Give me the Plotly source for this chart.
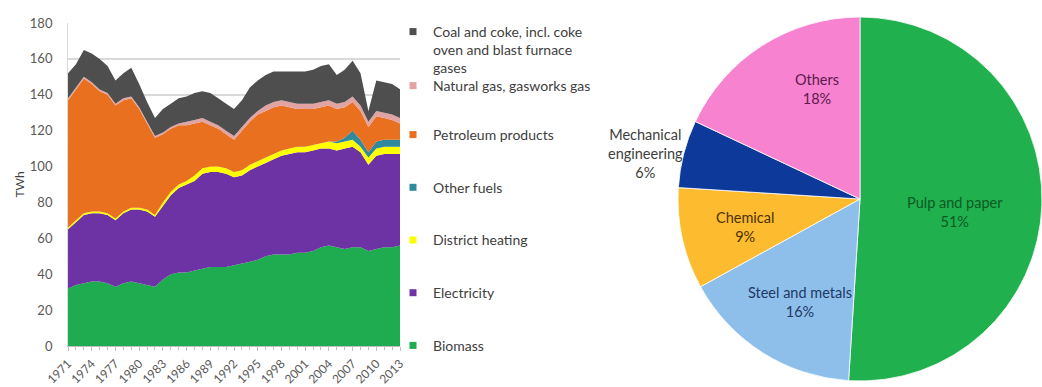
import plotly.graph_objects as go

years = list(range(1971, 2014))

biomass = [32,34,35,36,36,35,33,35,36,35, 34,33,37,40,41,41,42,43,44,44,
           44,45,46,47,48,50,51,51,51,52, 52,53,55,56,55,54,55,55,53,54, 55,55,56]
electricity = [33,35,38,38,38,38,37,39,40,41, 41,39,41,44,47,49,50,53,53,53,
               52,49,49,51,52,52,53,55,56,56, 56,56,55,54,54,56,56,53,48,52, 52,52,51]
district_heating = [1,1,1,1,1,1,1,1,1,1, 1,1,2,2,2,2,3,3,3,3,
                    3,3,3,3,3,3,3,3,3,3, 3,3,3,4,4,4,4,3,4,4, 4,4,4]
other_fuels = [0,0,0,0,0,0,0,0,0,0, 0,0,0,0,0,0,0,0,0,0,
               0,0,0,0,0,0,0,0,0,0, 0,0,0,0,1,2,5,4,3,4, 4,4,4]
petroleum = [71,73,75,71,67,66,63,62,61,55, 48,43,38,35,33,31,29,26,23,21,
             19,18,22,24,26,26,26,25,23,21, 21,20,20,20,18,17,16,16,14,14, 12,11,9]
natural_gas = [1,1,1,1,1,1,1,1,1,1, 1,1,1,1,1,2,2,2,2,2,
               2,2,2,2,2,3,3,3,3,3, 3,3,3,3,3,3,3,3,3,3, 3,3,3]
coal = [14,13,15,16,17,15,13,14,16,13, 11,10,13,13,14,14,15,15,16,15,
        15,15,15,17,17,17,17,16,17,18, 18,19,20,20,16,18,20,18,6,17, 17,17,16]

series_names = ["Biomass", "Electricity", "District heating", "Other fuels",
                "Petroleum products", "Natural gas, gasworks gas",
                "Coal and coke, incl. coke<br>oven and blast furnace<br>gases"]
series_values = [biomass, electricity, district_heating, other_fuels,
                 petroleum, natural_gas, coal]
series_colors = ["#1fab4f", "#6d32a3", "#ffff00", "#2f8aa0",
                 "#e8701e", "#e2a3a3", "#4e4e4e"]
legend_ids = ["legend2", "legend2", "legend2", "legend2", "legend2", "legend3", "legend"]

pie_labels = ["Pulp and paper", "Steel and metals", "Chemical",
              "Mechanical<br>engineering", "Others"]
pie_values = [51, 16, 9, 6, 18]
pie_colors = ["#20b04e", "#8dbfea", "#fdbb2f", "#0d3a9a", "#f682d0"]

fig = go.Figure()

for name, vals, col in zip(series_names, series_values, series_colors):
    fig.add_trace(go.Scatter(
        x=years, y=vals, stackgroup="one", mode="none",
        fillcolor=col, name=name, showlegend=False, hoverinfo="x+y+name"))

# legend entries (square markers like the original)
for i in range(len(series_names) - 1, -1, -1):
    fig.add_trace(go.Scatter(
        x=[None], y=[None], mode="markers",
        marker=dict(symbol="square", size=7, color=series_colors[i]),
        name=series_names[i], legendgroup=str(i), legend=legend_ids[i]))

fig.add_trace(go.Pie(
    labels=pie_labels, values=pie_values, sort=False, direction="clockwise",
    rotation=0, marker=dict(colors=pie_colors, line=dict(color="white", width=0.8)),
    textinfo="none", domain=dict(x=[678 / 1042, 1.0], y=[0.0155, 0.956]),
    showlegend=False, hoverinfo="label+percent"))

# pie labels
label_pos = [(955, 212), (800, 302), (745, 227), (645, 153), (817, 89)]
label_cols = ["#0b5a22", "#1f3864", "#4a3200", "#404040", "#5b1a4a"]
for lab, v, (px, py), c in zip(pie_labels, pie_values, label_pos, label_cols):
    fig.add_annotation(
        x=px / 1042, y=1 - py / 387, xref="paper", yref="paper",
        xanchor="center", yanchor="middle",
        text=f"{lab}<br>{v}%", showarrow=False, align="center",
        font=dict(size=14.5, color=c, family="Lato"))

legend_common = dict(xanchor="left", yanchor="top", traceorder="grouped",
                     font=dict(size=14, color="#404040"), itemwidth=30,
                     bgcolor="rgba(0,0,0,0)")

fig.update_layout(
    width=1042, height=387,
    margin=dict(l=0, r=0, t=0, b=0),
    paper_bgcolor="white", plot_bgcolor="white",
    font=dict(family="Lato", size=12, color="#404040"),
    xaxis=dict(domain=[0.0653, 0.3839], range=[1971, 2013], automargin=False,
               tickmode="linear", tick0=1971, dtick=3, tickangle=-45,
               ticks="outside", ticklen=4, tickcolor="#bfbfbf",
               minor=dict(dtick=1, ticks="outside", ticklen=3, tickcolor="#bfbfbf"),
               showline=True, linecolor="#bfbfbf", showgrid=False,
               ticklabelstandoff=1,
               tickfont=dict(size=12, color="#595959"), zeroline=False),
    yaxis=dict(domain=[0.106, 0.9406], range=[0, 180], dtick=20, automargin=False,
               showgrid=True, gridcolor="#d9d9d9", gridwidth=1.5,
               showline=True, linecolor="#d9d9d9", zeroline=False,
               ticklabelstandoff=12,
               tickfont=dict(size=13, color="#595959"),
               title=dict(text="TWh", standoff=2, font=dict(size=12, color="#404040"))),
    legend=dict(x=393 / 1042, y=1 - 16 / 387, valign="top", **legend_common),
    legend3=dict(x=393 / 1042, y=1 - 70 / 387, **legend_common),
    legend2=dict(x=393 / 1042, y=1 - 119 / 387, tracegroupgap=31.5, **legend_common),
)

fig.write_html("out.html", config={"displayModeBar": False},
               post_script="document.body.style.margin='0';document.body.style.overflow='hidden';")
